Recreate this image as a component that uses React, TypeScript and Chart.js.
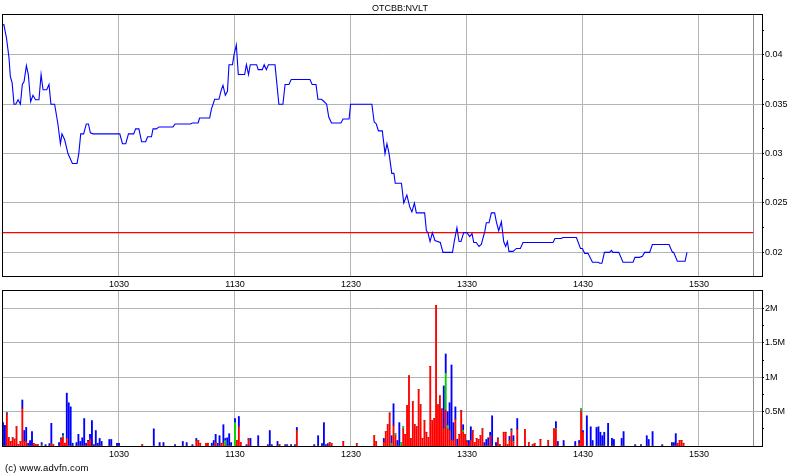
import React, { useEffect, useRef } from "react";
import { Chart, registerables } from "chart.js";

Chart.register(...registerables);

const chartTitle = "OTCBB:NVLT";
const copyrightText = "(c) www.advfn.com";

// time axis, minutes after 09:30
const timeTickValues = [60, 120, 180, 240, 300, 360];
const timeTickLabels = ["1030", "1130", "1230", "1330", "1430", "1530"];
const sessionEndMinute = 388;
const timeAxisMax = 392.6;

// price axis
const priceAxisMin = 0.01761;
const priceAxisMax = 0.04403;
const priceTickValues = [0.02, 0.025, 0.03, 0.035, 0.04];
const priceTickLabels = ["0.02", "0.025", "0.03", "0.035", "0.04"];
const priceMinorTicks = [0.0225, 0.0275, 0.0325, 0.0375, 0.0425];
const referencePrice = 0.022;

// volume axis (thousands of shares)
const volumeAxisMax = 2257;
const volumeTickValues = [500, 1000, 1500, 2000];
const volumeTickLabels = ["0.5M", "1M", "1.5M", "2M"];
const volumeMinorTicks = [250, 750, 1250, 1750];

// price series
const priceMinutes = [
  0, 0.5, 1.8, 3.1, 3.8, 4.7, 5.7, 6.6, 7.8, 9.0, 10.0, 10.9, 12.1, 13.1, 14.3, 15.5, 16.8, 18.6, 19.7, 20.7,
  22.6, 23.8, 24.8, 26.7, 28.4, 29.7, 30.5, 31.9, 33.6, 35.9, 38.3, 39.2, 40.2, 41.7, 43.1, 44.2, 45.2, 46.6,
  60.4, 61.8, 63.5, 64.9, 67.6, 68.6, 70.3, 71.7, 73.8, 74.8, 76.8, 77.6, 79.3, 80.7, 87.9, 89.0, 96.9, 98.0,
  100.9, 101.7, 106.9, 107.8, 109.5, 111.7, 113.0, 113.8, 115.0, 116.1, 116.9, 118.7, 119.5, 120.7, 121.7,
  125.0, 125.9, 127.0, 127.9, 131.2, 132.0, 134.1, 135.1, 136.2, 137.3, 140.7, 142.7, 144.8, 145.9, 147.9,
  149.1, 158.8, 159.9, 161.9, 162.9, 164.7, 165.9, 167.4, 168.5, 169.9, 174.8, 175.9, 179.0, 179.8, 190.8,
  192.0, 193.1, 194.2, 196.2, 197.6, 198.6, 199.7, 201.1, 202.2, 202.9, 206.1, 207.3, 208.9, 210.4, 211.5,
  212.8, 213.8, 218.1, 219.0, 219.8, 220.9, 222.1, 223.4, 226.2, 227.6, 232.5, 233.5, 234.8, 235.9, 236.9,
  238.3, 240.0, 241.4, 242.6, 243.5, 244.8, 246.2, 247.4, 249.2, 250.0, 251.4, 252.6, 254.3, 255.2, 256.4,
  257.8, 259.0, 260.0, 260.9, 261.7, 263.8, 265.6, 267.6, 269.0, 284.5, 285.5, 288.8, 289.7, 296.6, 298.7,
  299.7, 300.9, 302.6, 304.9, 307.8, 308.7, 309.8, 311.1, 313.8, 314.7, 315.5, 318.5, 320.7, 325.9, 326.9,
  329.3, 330.7, 331.9, 334.5, 335.9, 344.5, 346.3, 346.9, 348.8, 352.8, 353.8,
];
const priceValues = [
  0.0431, 0.043, 0.0417, 0.0397, 0.0378, 0.0372, 0.035, 0.035, 0.03545, 0.035, 0.037, 0.0373, 0.0389, 0.038,
  0.03525, 0.0359, 0.03545, 0.03545, 0.038, 0.03646, 0.03646, 0.037, 0.035, 0.035, 0.033, 0.031, 0.032, 0.0314,
  0.03, 0.029, 0.029, 0.03, 0.032, 0.032, 0.033, 0.033, 0.0321, 0.032,
  0.032, 0.031, 0.031, 0.032, 0.032, 0.0325, 0.0325, 0.0312, 0.0312, 0.0317, 0.0317, 0.0325, 0.0325, 0.0327,
  0.0327, 0.033, 0.033, 0.0331, 0.0331, 0.0336, 0.0336, 0.0345, 0.0355, 0.0355, 0.0365, 0.0369, 0.0359, 0.0363,
  0.039, 0.039, 0.04, 0.041, 0.038, 0.038, 0.039, 0.038, 0.039, 0.039, 0.0385, 0.0385, 0.039, 0.0385, 0.039,
  0.039, 0.035, 0.035, 0.037, 0.037, 0.0375, 0.0375, 0.037, 0.037, 0.0355, 0.0355, 0.0353, 0.035, 0.0337,
  0.0331, 0.0331, 0.0335, 0.0335, 0.035, 0.035, 0.0332, 0.033, 0.0323, 0.0323, 0.03, 0.031, 0.03, 0.028, 0.028,
  0.027, 0.027, 0.025, 0.0258, 0.0246, 0.0241, 0.025, 0.024, 0.024, 0.0222, 0.022, 0.0211, 0.022, 0.0212,
  0.021, 0.02, 0.02, 0.0212, 0.0225, 0.0211, 0.0211, 0.022, 0.022, 0.0216, 0.0219, 0.021, 0.021, 0.0206,
  0.0208, 0.0221, 0.023, 0.023, 0.024, 0.024, 0.0231, 0.0222, 0.0231, 0.0211, 0.0206, 0.0211, 0.0201, 0.0201,
  0.0204, 0.0204, 0.021, 0.021, 0.0214, 0.0214, 0.0215, 0.0215, 0.0204, 0.0204, 0.0199, 0.0199, 0.019, 0.019,
  0.0189, 0.0189, 0.02, 0.02, 0.0202, 0.02, 0.02, 0.019, 0.019, 0.0195, 0.0195, 0.0196, 0.02, 0.02, 0.0208,
  0.0208, 0.02, 0.02, 0.0191, 0.0191, 0.02,
];

// volume series (thousands of shares), per minute
const volumeMinutes = [
  0, 1, 2, 3, 4, 5, 6, 7, 8, 9, 10, 11, 12, 13, 14, 15, 16, 17, 18, 20, 22, 24, 25, 26, 29, 30, 31, 32, 33, 34,
  35, 36, 38, 39, 40, 41, 42, 43, 44, 45, 46, 47, 48, 49, 50, 51, 55, 56, 59, 60, 72, 78, 81, 83, 89, 93, 95, 98,
  100, 101, 102, 105, 106, 108, 109, 110, 111, 112, 113, 114, 115, 116, 117, 118, 120, 121, 122, 123, 126, 127,
  128, 132, 137, 138, 139, 142, 143, 146, 147, 149, 151, 152, 161, 163, 165, 166, 167, 168, 169, 170, 176, 183,
  192, 193, 197, 198, 199, 200, 201, 202, 203, 204, 205, 206, 207, 208, 209, 210, 211, 212, 213, 214, 215, 216,
  217, 218, 219, 220, 221, 222, 223, 224, 225, 226, 227, 228, 229, 230, 231, 232, 233, 234, 235, 236, 237, 238,
  239, 240, 241, 242, 243, 244, 245, 246, 247, 248, 249, 250, 251, 252, 253, 255, 256, 257, 259, 260, 261, 262,
  263, 264, 266, 270, 272, 274, 275, 278, 282, 285, 286, 287, 290, 296, 298, 299, 300, 302, 304, 305, 307, 308,
  309, 310, 311, 313, 315, 316, 320, 321, 327, 330, 333, 334, 336, 341, 346, 347, 348, 349, 350, 351, 352,
];
const volumeSell = [
  0, 0, 466, 120, 66, 120, 100, 280, 20, 66, 550, 66, 66, 0, 0, 0, 40, 20, 20, 0, 0, 0, 30, 20, 0, 100, 130, 40, 110, 0,
  0, 0, 0, 0, 0, 0, 0, 0, 66, 100, 0, 0, 0, 0, 0, 0, 0, 0, 0, 0, 20, 0, 0, 0, 0, 0, 0, 0,
  75, 80, 40, 40, 40, 0, 0, 50, 0, 0, 40, 40, 0, 0, 0, 0, 0, 80, 280, 50, 0, 100,
  0, 0, 0, 0, 0, 0, 20, 0, 0, 0, 0, 225, 0, 0, 0, 0, 0, 0, 50, 35, 66, 35,
  150, 66, 50, 210, 310, 480, 0, 300, 150, 0, 0, 0, 250, 170, 590, 1020, 110, 645, 310, 280, 820, 600,
  110, 370, 200, 125, 1160, 370, 400, 2050, 600, 730, 540, 250, 520, 250, 225, 80, 80, 390, 0, 170, 510, 200,
  170, 60, 0, 80, 225, 50, 110, 95, 150, 250, 0, 0, 0, 150, 0, 0, 110, 20, 200, 200, 20, 80,
  210, 50, 240, 240, 50, 20, 35, 95, 80, 250, 240, 0, 0, 0, 35, 510, 200, 0, 0, 0, 0, 0,
  0, 0, 0, 0, 0, 0, 0, 0, 0, 0, 0, 0, 0, 0, 0, 0, 0, 40, 80, 80, 40,
];
const volumeUnknown = [
  0, 0, 0, 0, 0, 0, 0, 0, 0, 0, 0, 0, 0, 0, 0, 0, 0, 0, 0, 15, 0, 0, 0, 0, 0, 0, 20, 0, 0, 0,
  0, 0, 0, 0, 0, 0, 0, 0, 0, 0, 0, 0, 0, 0, 0, 0, 0, 0, 0, 0, 0, 0, 0, 0, 0, 0, 0, 0,
  0, 0, 0, 0, 0, 0, 0, 0, 0, 0, 0, 0, 80, 0, 0, 0, 340, 0, 0, 0, 0, 0,
  0, 0, 0, 0, 0, 0, 0, 0, 0, 0, 0, 0, 0, 0, 0, 0, 0, 0, 0, 0, 0, 0,
  0, 0, 0, 0, 0, 0, 40, 0, 30, 0, 0, 50, 30, 0, 0, 0, 0, 0, 0, 0, 0, 0,
  0, 0, 0, 0, 0, 0, 0, 0, 0, 0, 0, 0, 540, 50, 0, 0, 0, 0, 0, 0, 0, 30,
  0, 0, 0, 0, 0, 0, 0, 0, 0, 0, 0, 0, 0, 0, 0, 0, 0, 0, 0, 0, 0, 0,
  15, 15, 0, 0, 0, 0, 0, 0, 0, 0, 15, 0, 0, 0, 0, 30, 0, 0, 0, 0, 0, 0,
  0, 0, 0, 0, 0, 0, 0, 0, 0, 0, 0, 0, 0, 0, 0, 0, 0, 0, 0, 0, 0,
];
const volumeBuy = [
  340, 300, 20, 0, 0, 0, 0, 0, 0, 0, 120, 160, 205, 40, 80, 210, 0, 0, 0, 35, 20, 35, 300, 0, 50, 20, 30, 0, 660, 630,
  570, 40, 50, 170, 66, 120, 400, 40, 15, 70, 370, 20, 225, 40, 110, 66, 95, 95, 40, 40, 0, 250, 50, 50, 20, 66, 50, 20,
  35, 0, 0, 0, 0, 40, 80, 120, 40, 150, 0, 270, 30, 120, 180, 50, 60, 0, 150, 0, 20, 10,
  110, 150, 20, 225, 20, 66, 0, 20, 20, 20, 20, 45, 20, 150, 35, 340, 20, 35, 0, 0, 0, 0,
  0, 0, 60, 0, 0, 0, 110, 315, 0, 80, 340, 0, 0, 0, 0, 0, 0, 0, 0, 0, 0, 0,
  0, 0, 0, 0, 0, 0, 0, 0, 0, 0, 0, 625, 280, 200, 405, 1100, 260, 180, 100, 0, 10, 80,
  0, 20, 80, 200, 0, 0, 0, 0, 0, 0, 50, 95, 120, 50, 440, 50, 10, 0, 0, 0, 0, 60,
  25, 85, 160, 0, 0, 0, 0, 0, 0, 0, 100, 66, 80, 66, 45, 0, 25, 440, 280, 80, 270, 280,
  200, 150, 200, 330, 110, 95, 110, 210, 20, 20, 150, 95, 210, 20, 50, 50, 180, 0, 0, 0, 0,
];

const FONT = "'Liberation Sans', Arial, sans-serif";
const near = (list: number[], v: number) => list.findIndex((t) => Math.abs(t - v) < 1e-7);

const framePlugin = {
  id: "frame",
  afterDraw(chart: any) {
    const { ctx, chartArea: a } = chart;
    ctx.save();
    ctx.strokeStyle = "#000";
    ctx.lineWidth = 1;
    ctx.strokeRect(Math.round(a.left) - 0.5, Math.round(a.top) - 0.5, Math.round(a.right - a.left) + 1, Math.round(a.bottom - a.top) + 1);
    ctx.restore();
  },
};

function timeScale() {
  return {
    type: "linear",
    position: "bottom",
    min: 0,
    max: timeAxisMax,
    offset: false,
    afterBuildTicks: (s: any) => {
      s.ticks = [...timeTickValues, sessionEndMinute].map((v) => ({ value: v }));
    },
    afterFit: (s: any) => {
      s.height = 14;
    },
    border: { display: false },
    grid: {
      color: (c: any) => (c.tick && c.tick.value === sessionEndMinute ? "#8c8c8c" : "#b4b4b4"),
      drawTicks: false,
      offset: false,
      lineWidth: 1,
    },
    ticks: {
      autoSkip: false,
      maxRotation: 0,
      padding: 3,
      color: "#000",
      font: { family: FONT, size: 9 },
      callback: (v: number) => {
        const i = timeTickValues.indexOf(v);
        return i >= 0 ? timeTickLabels[i] : "";
      },
    },
  };
}

function valueScale(min: number, max: number, major: number[], labels: string[], minor: number[]) {
  return {
    type: "linear",
    position: "right",
    min,
    max,
    afterBuildTicks: (s: any) => {
      s.ticks = [...major, ...minor].sort((a, b) => a - b).map((v) => ({ value: v }));
    },
    afterFit: (s: any) => {
      s.width = 38;
    },
    border: { display: false },
    grid: {
      color: (c: any) => (c.tick && near(major, c.tick.value) >= 0 ? "#a9b7b7" : "rgba(0,0,0,0)"),
      tickColor: "#000",
      tickLength: 2,
      drawTicks: true,
      lineWidth: 1,
    },
    ticks: {
      autoSkip: false,
      padding: 1,
      color: "#000",
      font: { family: FONT, size: 9 },
      callback: (v: number) => {
        const i = near(major, v);
        return i >= 0 ? labels[i] : "";
      },
    },
  };
}

export default function App() {
  const priceRef = useRef<HTMLCanvasElement | null>(null);
  const volRef = useRef<HTMLCanvasElement | null>(null);

  useEffect(() => {
    const priceChart = new Chart(priceRef.current as HTMLCanvasElement, {
      type: "line",
      data: {
        datasets: [
          {
            data: priceMinutes.map((m, i) => ({ x: m, y: priceValues[i] })),
            borderColor: "#0000ff",
            borderWidth: 1.1,
            pointRadius: 0,
            tension: 0,
            order: 0,
          },
          {
            data: [
              { x: 0, y: referencePrice },
              { x: sessionEndMinute, y: referencePrice },
            ],
            borderColor: "#ff0000",
            borderWidth: 1.2,
            pointRadius: 0,
            tension: 0,
            order: 1,
          },
        ],
      },
      options: {
        responsive: false,
        animation: false,
        events: [],
        layout: { padding: { top: 15, left: 3, right: 0, bottom: 185 } },
        plugins: { legend: { display: false }, tooltip: { enabled: false } },
        scales: {
          x: timeScale(),
          y: valueScale(priceAxisMin, priceAxisMax, priceTickValues, priceTickLabels, priceMinorTicks),
        } as any,
      },
      plugins: [framePlugin],
    } as any);

    const mk = (vals: number[]) => volumeMinutes.map((m, i) => ({ x: m, y: vals[i] }));
    const volChart = new Chart(volRef.current as HTMLCanvasElement, {
      type: "bar",
      data: {
        datasets: [
          { data: mk(volumeSell), backgroundColor: "#ff0000", barThickness: 1.2, borderWidth: 0 },
          { data: mk(volumeUnknown), backgroundColor: "#00d000", barThickness: 1.2, borderWidth: 0 },
          { data: mk(volumeBuy), backgroundColor: "#0000ff", barThickness: 1.2, borderWidth: 0 },
        ],
      },
      options: {
        responsive: false,
        animation: false,
        events: [],
        layout: { padding: { top: 291, left: 3, right: 0, bottom: 15 } },
        plugins: { legend: { display: false }, tooltip: { enabled: false } },
        scales: {
          x: { ...timeScale(), stacked: true },
          y: { ...valueScale(0, volumeAxisMax, volumeTickValues, volumeTickLabels, volumeMinorTicks), stacked: true },
        } as any,
      },
      plugins: [framePlugin],
    } as any);

    return () => {
      priceChart.destroy();
      volChart.destroy();
    };
  }, []);

  const canvasStyle: React.CSSProperties = { position: "absolute", left: 0, top: 0, width: 800, height: 475 };
  return (
    <div style={{ position: "fixed", left: 0, top: 0, width: 800, height: 475, background: "#fff", overflow: "hidden" }}>
      <canvas ref={priceRef} width={800} height={475} style={canvasStyle} />
      <canvas ref={volRef} width={800} height={475} style={canvasStyle} />
      <div
        style={{
          position: "absolute",
          left: 0,
          top: 4,
          width: 800,
          textAlign: "center",
          font: `9px ${FONT}`,
          lineHeight: "9px",
          color: "#000",
        }}
      >
        {chartTitle}
      </div>
      <div
        style={{
          position: "absolute",
          left: 5,
          top: 463,
          font: `9.5px ${FONT}`,
          lineHeight: "9px",
          color: "#000",
          letterSpacing: "0.2px",
        }}
      >
        {copyrightText}
      </div>
    </div>
  );
}
